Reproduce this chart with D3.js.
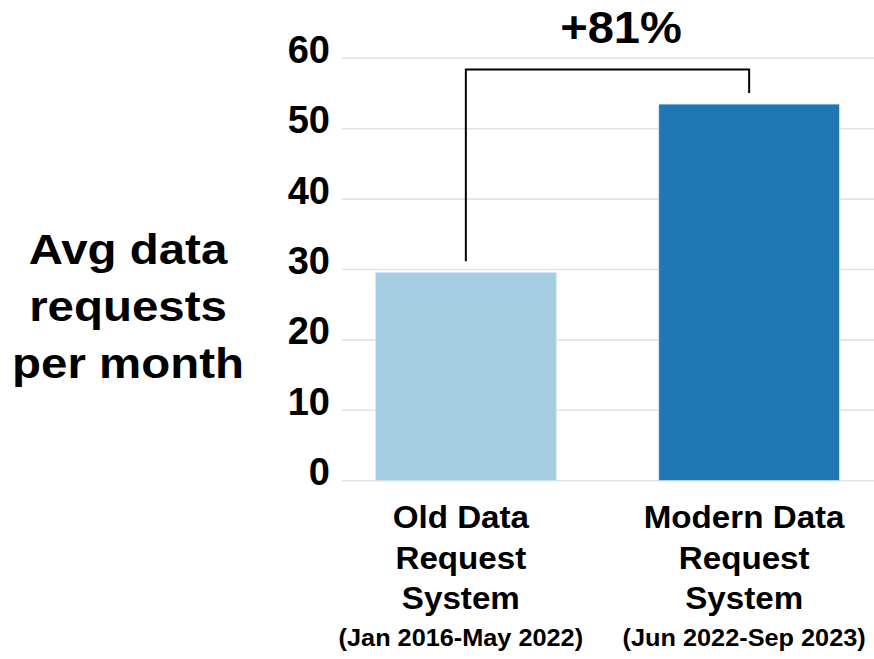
<!DOCTYPE html>
<html>
<head>
<meta charset="utf-8">
<script src="https://cdn.jsdelivr.net/npm/d3@7"></script>
<style>
  html, body { margin: 0; padding: 0; background: #fff; }
  svg { display: block; }
  text { font-family: "Liberation Sans", Arial, sans-serif; font-weight: bold; fill: #000; }
</style>
</head>
<body>
<svg id="chart" width="874" height="659"></svg>
<script>
// ---- data ----
const categories = ["Old Data Request System", "Modern Data Request System"];
const categoryLines = [["Old Data", "Request", "System"], ["Modern Data", "Request", "System"]];
const periods = ["(Jan 2016-May 2022)", "(Jun 2022-Sep 2023)"];
const values = [29.6, 53.5];
const barColors = ["#a6cee3", "#1f78b4"];
const yTicks = [0, 10, 20, 30, 40, 50, 60];
const yLabelLines = ["Avg data", "requests", "per month"];
const bracketTop = 58.4;

const svg = d3.select("#chart");
const plot = { left: 342, right: 874, top: 58.3, bottom: 480.7 };

const y = d3.scaleLinear().domain([0, 60]).range([plot.bottom, plot.top]);
const x = d3.scaleBand().domain(categories).range([340, 875])
  .paddingInner(0.3616).paddingOuter(0.125);

// gridlines
svg.append("g").selectAll("line").data(yTicks).join("line")
  .attr("x1", plot.left).attr("x2", plot.right)
  .attr("y1", d => y(d)).attr("y2", d => y(d))
  .attr("stroke", "#e3e3e3").attr("stroke-width", 1.6);

// y axis tick labels
const yAxis = d3.axisLeft(y).tickValues(yTicks).tickSize(0).tickPadding(0);
const ya = svg.append("g").attr("transform", "translate(330,0)").call(yAxis);
ya.select(".domain").remove();
ya.selectAll("text")
  .attr("dy", null)
  .attr("y", 4)
  .style("font-size", "38px")
  .style("font-family", "'Liberation Sans', Arial, sans-serif")
  .style("font-weight", "bold")
  .attr("fill", "#000");

// bars
svg.append("g").selectAll("rect").data(categories).join("rect")
  .attr("x", d => x(d))
  .attr("y", (d, i) => y(values[i]))
  .attr("width", x.bandwidth())
  .attr("height", (d, i) => y(0) - y(values[i]))
  .attr("fill", (d, i) => barColors[i])
  .attr("stroke", "#d6e8f3").attr("stroke-width", 0.8);

// helper for horizontally stretched text
function stretchedText(parent, tx, ty, str, size, sx, anchor) {
  parent.append("g").attr("transform", `translate(${tx},${ty}) scale(${sx},1)`)
    .append("text").attr("text-anchor", anchor || "middle")
    .style("font-size", size + "px").text(str);
}

// bracket
const cx0 = x(categories[0]) + x.bandwidth() / 2;
const cx1 = x(categories[1]) + x.bandwidth() / 2;
const gap = 11;
const path = d3.path();
path.moveTo(cx0, y(values[0]) - gap);
path.lineTo(cx0, y(bracketTop));
path.lineTo(cx1, y(bracketTop));
path.lineTo(cx1, y(values[1]) - gap);
svg.append("path").attr("d", path.toString())
  .attr("fill", "none").attr("stroke", "#000").attr("stroke-width", 2);

const pct = Math.round((values[1] / values[0] - 1) * 100);
stretchedText(svg, 621, 43, "+" + pct + "%", 44, 1.07);

// y label
yLabelLines.forEach((t, i) => stretchedText(svg, 128, 264 + i * 57, t, 42, 1.13));

// x labels
categories.forEach((c, i) => {
  const cx = x(c) + x.bandwidth() / 2 - 5;
  categoryLines[i].forEach((t, j) => stretchedText(svg, cx, 528 + j * 40.5, t, 31, 1.07));
  stretchedText(svg, cx, 646, periods[i], 23, 1.1);
});
</script>
</body>
</html>
